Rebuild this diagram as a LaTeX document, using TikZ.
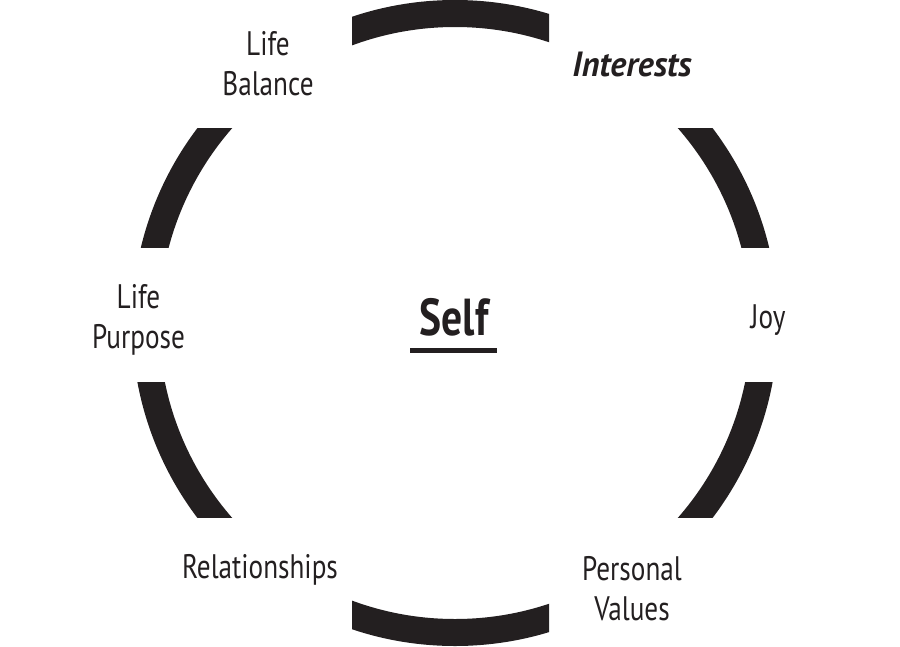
\documentclass[tikz,border=0pt]{standalone}
\usepackage{fontspec}
\setmainfont{PT Sans}[FakeStretch=0.8]
\newfontfamily\intfont{PT Sans}[FakeStretch=0.97]
\definecolor{ink}{HTML}{231F20}
\begin{document}
\begin{tikzpicture}[x=1pt,y=-1pt,
  lbl/.style={font=\fontsize{34}{40}\selectfont, text=ink, inner sep=0pt, align=center, anchor=base},
  bolditlbl/.style={lbl, font=\intfont\fontsize{35}{40}\selectfont\bfseries\itshape},
  selflbl/.style={lbl, font=\fontsize{52}{60}\selectfont\bfseries},
  ring/.style={fill=ink, even odd rule}]
\useasboundingbox (0,0) rectangle (900,646);
\coordinate (c) at (455,323);
\foreach \xa/\ya/\xb/\yb in {352/-10/549/160, 352/480/549/660, 0/128/455/247, 0/382/455/517, 455/128/900/247, 455/382/900/517}{
  \begin{scope}
    \clip (\xa,\ya) rectangle (\xb,\yb);
    \fill[ring] (c) circle[radius=323pt] (c) circle[radius=296pt];
  \end{scope}
}
\node[lbl] (bal) at (268,95) {Life\\Balance};
\node[bolditlbl] (int) at (632,76) {Interests};
\node[lbl] (joy) at (768,328) {Joy};
\node[lbl] (pur) at (138.5,348) {Life\\Purpose};
\node[lbl] (rel) at (260,578) {Relationships};
\node[lbl] (val) at (632,620) {Personal\\Values};
\node[selflbl] (self) at (454,335) {Self};
\draw[ink, line width=5pt] ([xshift=-44pt,yshift=-15.5pt]self.base) -- ([xshift=43pt,yshift=-15.5pt]self.base);
\end{tikzpicture}
\end{document}
